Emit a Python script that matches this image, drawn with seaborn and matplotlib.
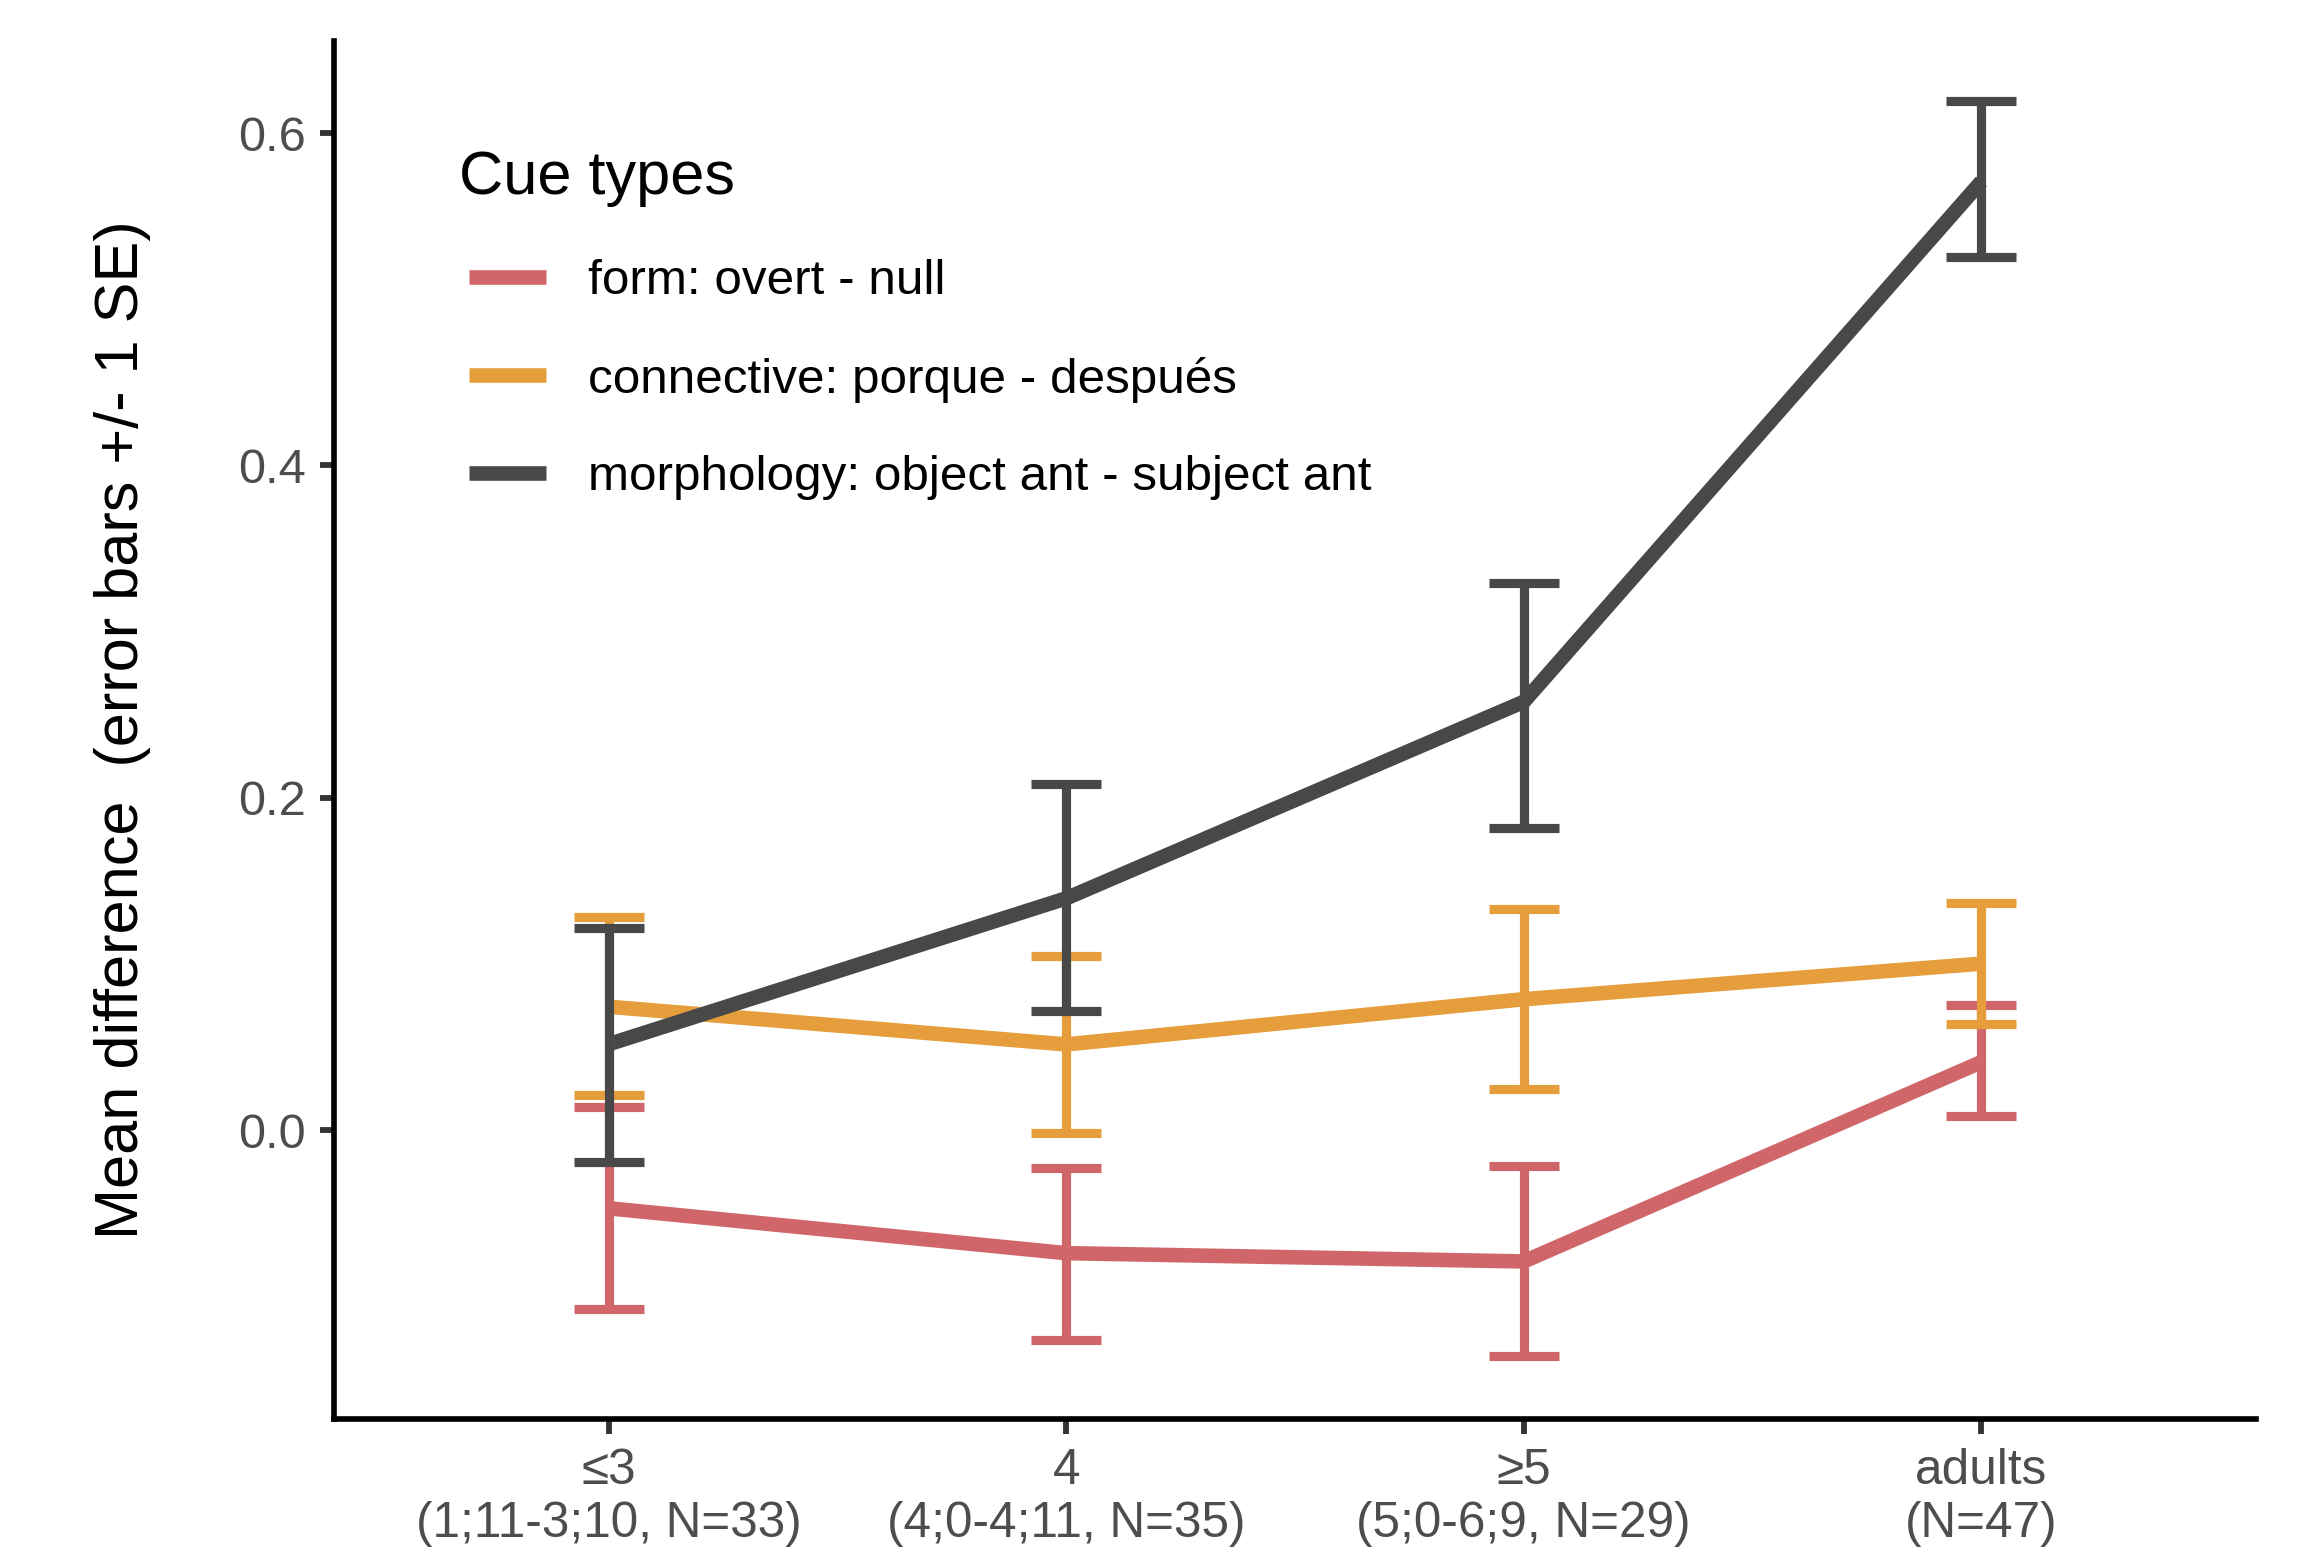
import numpy as np
import pandas as pd
import matplotlib
matplotlib.use("Agg")
import matplotlib.pyplot as plt
import seaborn as sns

# ---- data ----
age_groups = ["≤3\n(1;11-3;10, N=33)", "4\n(4;0-4;11, N=35)",
              "≥5\n(5;0-6;9, N=29)", "adults\n(N=47)"]
cue_types = ["form: overt - null", "connective: porque - después",
             "morphology: object ant - subject ant"]

form_mean = [-0.047, -0.074, -0.079, 0.041]
form_lo = [-0.1075, -0.126, -0.1357, 0.0083]
form_hi = [0.0138, -0.0227, -0.0214, 0.0751]

conn_mean = [0.0743, 0.0516, 0.0788, 0.1002]
conn_lo = [0.0212, -0.0019, 0.0245, 0.0636]
conn_hi = [0.1285, 0.1050, 0.1331, 0.1367]

morph_mean = [0.0517, 0.1395, 0.2578, 0.5709]
morph_lo = [-0.0194, 0.0718, 0.1820, 0.5255]
morph_hi = [0.1218, 0.2085, 0.3292, 0.6194]

y_ticks = [0.0, 0.2, 0.4, 0.6]
colors = ["#D0666A", "#E59E3B", "#484848"]

means = [form_mean, conn_mean, morph_mean]
los = [form_lo, conn_lo, morph_lo]
his = [form_hi, conn_hi, morph_hi]

rows = []
for cue, m, lo, hi in zip(cue_types, means, los, his):
    for g, mv, l, h in zip(age_groups, m, lo, hi):
        rows.append({"age": g, "cue": cue, "mean": mv, "lo": l, "hi": h})
df = pd.DataFrame(rows)

# ---- style ----
sns.set_theme(style="ticks")
plt.rcParams["font.family"] = ["Liberation Sans", "DejaVu Sans"]

W, H = 2305, 1549
DPI = 300
fig = plt.figure(figsize=(W / DPI, H / DPI), dpi=DPI)
ax_l, ax_r, ax_t, ax_b = 334, 2256, 41, 1418.5
ax = fig.add_axes([ax_l / W, 1 - ax_b / H, (ax_r - ax_l) / W, (ax_b - ax_t) / H])

sns.lineplot(data=df, x="age", y="mean", hue="cue", hue_order=cue_types,
             palette=colors, linewidth=3.5, sort=False, errorbar=None,
             solid_capstyle="butt", ax=ax)

handles, labels = ax.get_legend_handles_labels()

for cue, c in zip(cue_types, colors):
    sub = df[df["cue"] == cue]
    ax.errorbar(x=list(sub["age"]), y=sub["mean"],
                yerr=[sub["mean"] - sub["lo"], sub["hi"] - sub["mean"]],
                fmt="none", ecolor=c, elinewidth=2.2, capsize=8.3,
                capthick=2.2, zorder=3)

ax.set_xlim(-0.6, 3.6)
ax.set_ylim(-0.1735, 0.6554)
ax.set_yticks(y_ticks)
ax.set_yticklabels([f"{v:.1f}" for v in y_ticks])

sns.despine(ax=ax)
for s in ["left", "bottom"]:
    ax.spines[s].set_linewidth(1.35)
    ax.spines[s].set_color("black")

ax.tick_params(axis="y", labelsize=11.7, labelcolor="#4D4D4D", color="#333333",
               length=3.4, width=1.4, pad=3.4)
ax.tick_params(axis="x", labelsize=11.9, labelcolor="#4D4D4D", color="#333333",
               length=3.6, width=1.4, pad=3.4)

ax.set_xlabel("")
ax.set_ylabel("Mean difference  (error bars +/- 1 SE)", fontsize=14.7,
              color="black")
ax.yaxis.set_label_coords((151 - ax_l) / (ax_r - ax_l), 0.5)

leg = ax.legend(handles, labels, title="Cue types", loc="upper left",
                bbox_to_anchor=(469 / W, 1 - 150 / H),
                bbox_transform=fig.transFigure, frameon=False,
                fontsize=11.85, title_fontsize=14.7, handlelength=1.56,
                handletextpad=0.86, labelspacing=1.06, borderpad=0,
                borderaxespad=0, alignment="left")
for lh in leg.get_lines():
    lh.set_linewidth(3.5)
    lh.set_solid_capstyle("butt")
for t in leg.get_texts():
    t.set_color("black")
leg.get_title().set_color("black")
leg.get_title().set_x(-10)

fig.savefig("out.png", dpi=DPI)
